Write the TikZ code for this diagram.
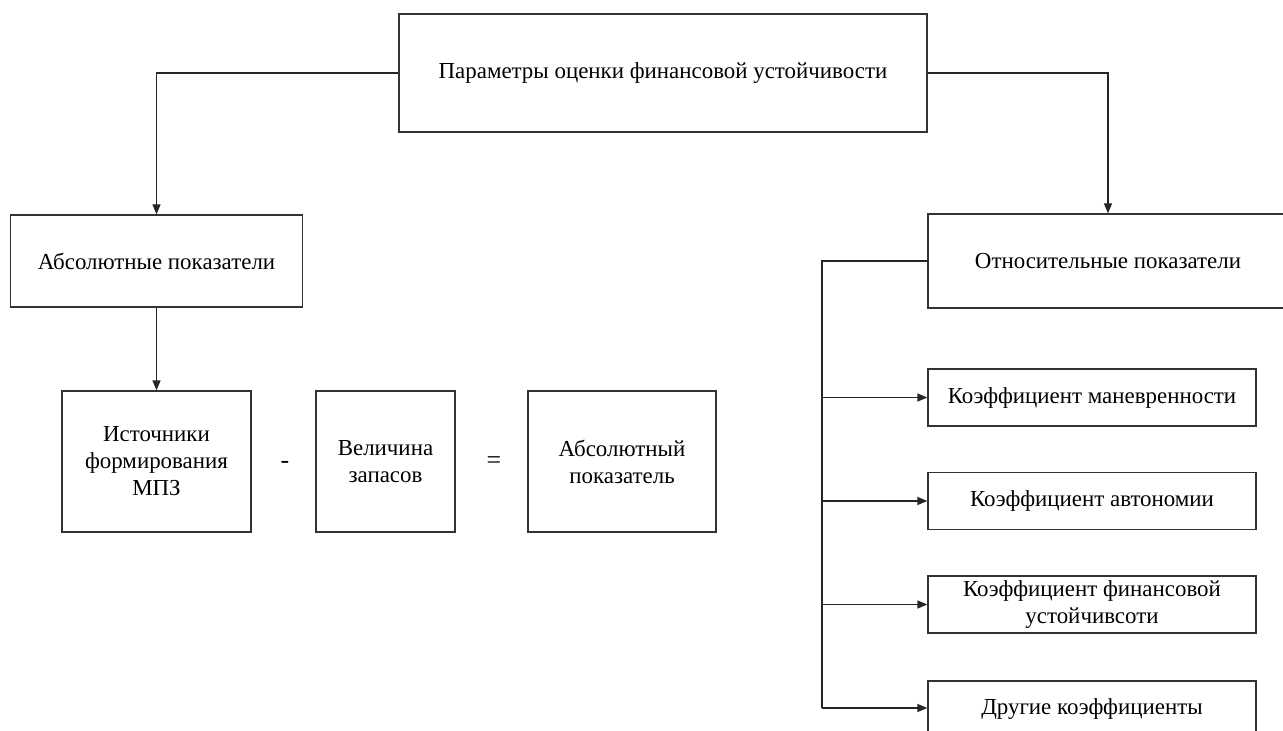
\documentclass[tikz,border=0pt]{standalone}
\usepackage{fontspec}
\setmainfont{Liberation Serif}
\usetikzlibrary{arrows.meta}
\begin{document}
\begin{tikzpicture}[x=1bp,y=-1bp,
  box/.style={draw=black!80,line width=1.3bp,rectangle,inner sep=0pt,align=center,
    font=\fontsize{23}{27}\selectfont},
  link/.style={draw=black!85,line width=1.3bp},
  arr/.style={link,-{Triangle[length=10bp,width=8bp]}},
  sign/.style={font=\fontsize{26}{26}\selectfont}]
\useasboundingbox (0,0) rectangle (1283,731);
\clip (0,0) rectangle (1283,731);
% top level
\node[box,minimum width=528bp,minimum height=118bp] (top) at (663,73)
  {Параметры оценки финансовой устойчивости};
% second level
\node[box,minimum width=292bp,minimum height=92bp] (abs) at (156.5,261)
  {Абсолютные показатели};
\node[box,minimum width=360bp,minimum height=94bp] (rel) at (1108,261)
  {Относительные показатели};
% formula row
\node[box,minimum width=189bp,minimum height=141bp] (src) at (156.5,461.5)
  {Источники\\формирования\\МПЗ};
\node[box,minimum width=139bp,minimum height=141bp] (stock) at (385.5,461.5)
  {Величина\\запасов};
\node[box,minimum width=188bp,minimum height=141bp] (res) at (622,461.5)
  {Абсолютный\\показатель};
\node[sign] (minus) at (285,465) {-};
\node[sign] (eq) at (494,463) {=};
% ratios
\node[box,minimum width=328bp,minimum height=57bp] (k1) at (1092,397.5)
  {Коэффициент маневренности};
\node[box,minimum width=328bp,minimum height=57bp] (k2) at (1092,501)
  {Коэффициент автономии};
\node[box,minimum width=328bp,minimum height=57bp] (k3) at (1092,604.5)
  {Коэффициент финансовой\\устойчивсоти};
\node[box,minimum width=328bp,minimum height=57bp] (k4) at (1092,709.5)
  {Другие коэффициенты};
% connectors
\draw[arr] (top.west) -| (abs.north);
\draw[arr] (top.east) -| (rel.north);
\draw[arr] (abs.south) -- (src.north);
\coordinate (bus) at (822,261);
\coordinate (busend) at (822,708);
\draw[link] (rel.west) -- (bus) -- (busend);
\draw[arr] (bus |- k1.west) -- (k1.west);
\draw[arr] (bus |- k2.west) -- (k2.west);
\draw[arr] (bus |- k3.west) -- (k3.west);
\draw[arr] (busend) -- (busend -| k4.west);
\end{tikzpicture}
\end{document}
